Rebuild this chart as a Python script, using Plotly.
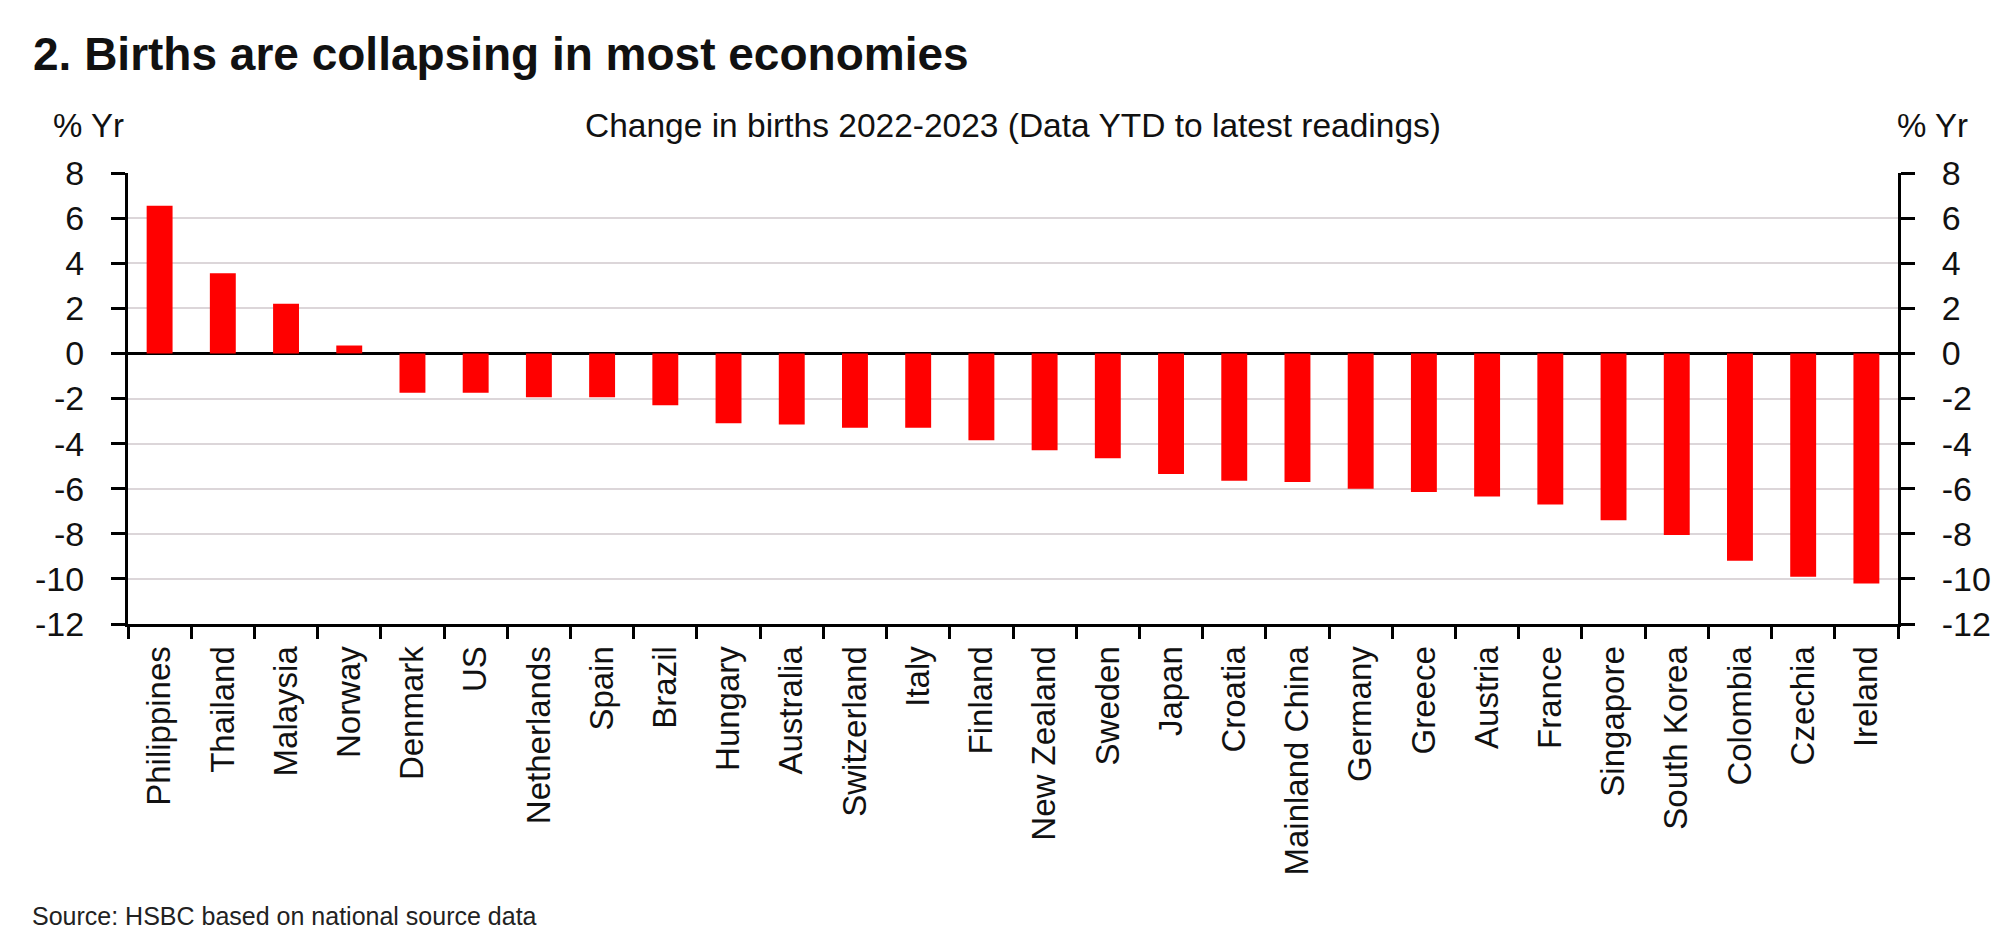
import plotly.graph_objects as go

countries = ["Philippines", "Thailand", "Malaysia", "Norway", "Denmark", "US", "Netherlands",
             "Spain", "Brazil", "Hungary", "Australia", "Switzerland", "Italy", "Finland",
             "New Zealand", "Sweden", "Japan", "Croatia", "Mainland China", "Germany", "Greece",
             "Austria", "France", "Singapore", "South Korea", "Colombia", "Czechia", "Ireland"]
change = [6.55, 3.55, 2.2, 0.35, -1.75, -1.75, -1.95, -1.95, -2.3, -3.1, -3.15, -3.3, -3.3,
          -3.85, -4.3, -4.65, -5.35, -5.65, -5.7, -6.0, -6.15, -6.35, -6.7, -7.4, -8.05,
          -9.2, -9.9, -10.2]
y_ticks = [8, 6, 4, 2, 0, -2, -4, -6, -8, -10, -12]
y_tick_labels = ["8", "6", "4", "2", "0", "-2", "-4", "-6", "-8", "-10", "-12"]

W, H = 2010, 950
L, R, T, B = 120, 120, 165, 334
pw, ph = W - L - R, H - T - B

def px(x):
    return (x - L) / pw

def py(y):
    return (H - B - y) / ph

FONT = "Liberation Sans, Arial, sans-serif"

fig = go.Figure()
fig.add_trace(go.Bar(x=countries, y=change, marker_color="#ff0000", marker_line_width=0,
                     showlegend=False, hoverinfo="x+y"))
fig.add_trace(go.Scatter(x=countries, y=change, yaxis="y2", mode="markers",
                         marker=dict(opacity=0), showlegend=False, hoverinfo="skip"))

axis_common = dict(range=[-12, 8], tickvals=y_ticks, ticktext=y_tick_labels,
                   ticks="outside", ticklen=14, tickwidth=3,
                   tickcolor="black", showline=True, linecolor="black", linewidth=3,
                   tickfont=dict(family=FONT, size=34, color="#111111"))

fig.update_layout(
    width=W, height=H,
    margin=dict(l=L, r=R, t=T, b=B),
    paper_bgcolor="white", plot_bgcolor="white",
    bargap=0.59,
    title=dict(text="<b>2. Births are collapsing in most economies</b>",
               x=25 / W, xanchor="left", y=1 - 46 / H, yanchor="middle",
               font=dict(family=FONT, size=46, color="#111111")),
    xaxis=dict(type="category", range=[-0.5, len(countries) - 0.5], tickangle=-90,
               tickson="boundaries", ticks="outside",
               ticklen=12, tickwidth=3, tickcolor="black", showline=True, linecolor="black",
               linewidth=3, showgrid=False,
               tickfont=dict(family=FONT, size=33, color="#111111"),
               ticklabelstandoff=6),
    yaxis=dict(**axis_common, side="left", showgrid=True, gridcolor="#dcd6d9", gridwidth=2,
               zeroline=True, zerolinecolor="black", zerolinewidth=3, ticklabelstandoff=20),
    yaxis2=dict(**axis_common, side="right", overlaying="y", showgrid=False, zeroline=False,
                ticklabelstandoff=20),
)

fig.add_annotation(text="Change in births 2022-2023 (Data YTD to latest readings)",
                   xref="paper", yref="paper", x=0.5, y=py(118), xanchor="center",
                   yanchor="middle", showarrow=False,
                   font=dict(family=FONT, size=33.5, color="#111111"))
fig.add_annotation(text="% Yr", xref="paper", yref="paper", x=px(118), y=py(118),
                   xanchor="right", yanchor="middle", showarrow=False,
                   font=dict(family=FONT, size=33, color="#111111"))
fig.add_annotation(text="% Yr", xref="paper", yref="paper", x=px(1887), y=py(118),
                   xanchor="left", yanchor="middle", showarrow=False,
                   font=dict(family=FONT, size=33, color="#111111"))
fig.add_annotation(text="Source: HSBC based on national source data", xref="paper",
                   yref="paper", x=px(22), y=py(908), xanchor="left", yanchor="middle",
                   showarrow=False, font=dict(family=FONT, size=25, color="#222222"))

fig.write_html("out.html")
